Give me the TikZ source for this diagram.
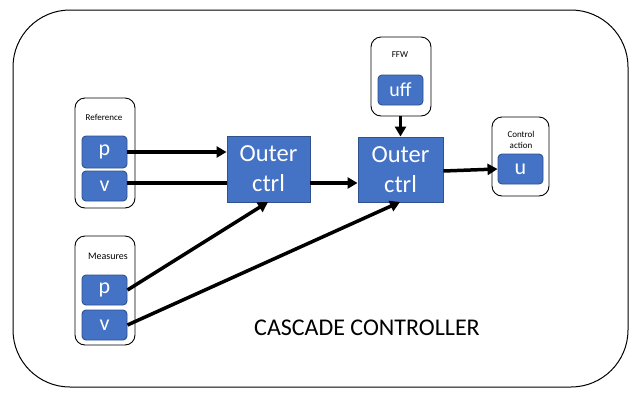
\documentclass[tikz,border=0pt]{standalone}
\usepackage{fontspec}
\setmainfont{Carlito}
\usetikzlibrary{arrows.meta}
\definecolor{blu}{HTML}{4472C4}
\definecolor{blud}{HTML}{2F528F}
\tikzset{
  grp/.style={draw=black, line width=0.9pt, rounded corners=10pt, fill=white},
  var/.style={draw=blud, line width=0.9pt, fill=blu, rounded corners=4pt, text=white, inner sep=0pt, minimum width=45pt, minimum height=30pt, font=\fontsize{22}{24}\selectfont},
  ctrl/.style={draw=blud, line width=0.9pt, fill=blu, text=white, align=center, inner sep=0pt, font=\fontsize{24.5}{30}\selectfont},
  lbl/.style={font=\fontsize{9}{11}\selectfont, align=center, inner sep=0pt},
  arr/.style={line width=3.5pt, -{Triangle[length=10pt,width=11pt]}},
  ln/.style={line width=3.5pt}
}
\begin{document}
\begin{tikzpicture}[x=1pt,y=-1pt]
\useasboundingbox (0,0) rectangle (640,408);
\draw[line width=1pt, rounded corners=57pt] (13,10) rectangle (628,387);
% groups
\draw[grp] (75,98) rectangle (135,208);
\draw[grp] (75,236) rectangle (135,345);
\draw[grp] (371,37) rectangle (431,116);
\draw[grp] (492,117) rectangle (549,196);
% labels
\node[lbl] (reflbl) at (104,117) {Reference};
\node[lbl, font=\fontsize{10}{12}\selectfont] (meslbl) at (108,256) {Measures};
\node[lbl] (ffwlbl) at (400,55) {FFW};
\node[lbl] (calbl) at (521,140) {Control\\action};
% var boxes
\node[var, minimum height=32pt] (rp) at (104.5,152) {p};
\node[var] (rv) at (104.5,186) {v};
\node[var] (mp) at (104.5,290) {p};
\node[var] (mv) at (104.5,325) {v};
\node[var, font=\fontsize{20}{22}\selectfont] (uff) at (400.5,90) {uff};
\node[var] (u) at (520.5,169) {u};
% controllers
\node[ctrl, minimum width=83pt, minimum height=66pt] (c1) at (268.5,169) {Outer\\ctrl};
\node[ctrl, minimum width=85pt, minimum height=65pt] (c2) at (400.5,169.5) {Outer\\ctrl};
% connectors
\draw[arr] (rp.east) -- (rp.east -| c1.west);
\draw[ln] (rv.east |- 0,183) -- (c1.west |- 0,183);
\draw[arr] (c1.east |- 0,183) -- (c2.west |- 0,183);
\draw[arr] (c2.east |- 0,171) -- (u.west);
\draw[arr] (uff.south |- 0,116) -- (c2.north);
\draw[arr] (mp.east) -- (268,202);
\draw[arr] (mv.east) -- (400,202);
% title
\node[font=\fontsize{24}{28}\selectfont] (title) at (367,328) {CASCADE CONTROLLER};
\end{tikzpicture}
\end{document}
